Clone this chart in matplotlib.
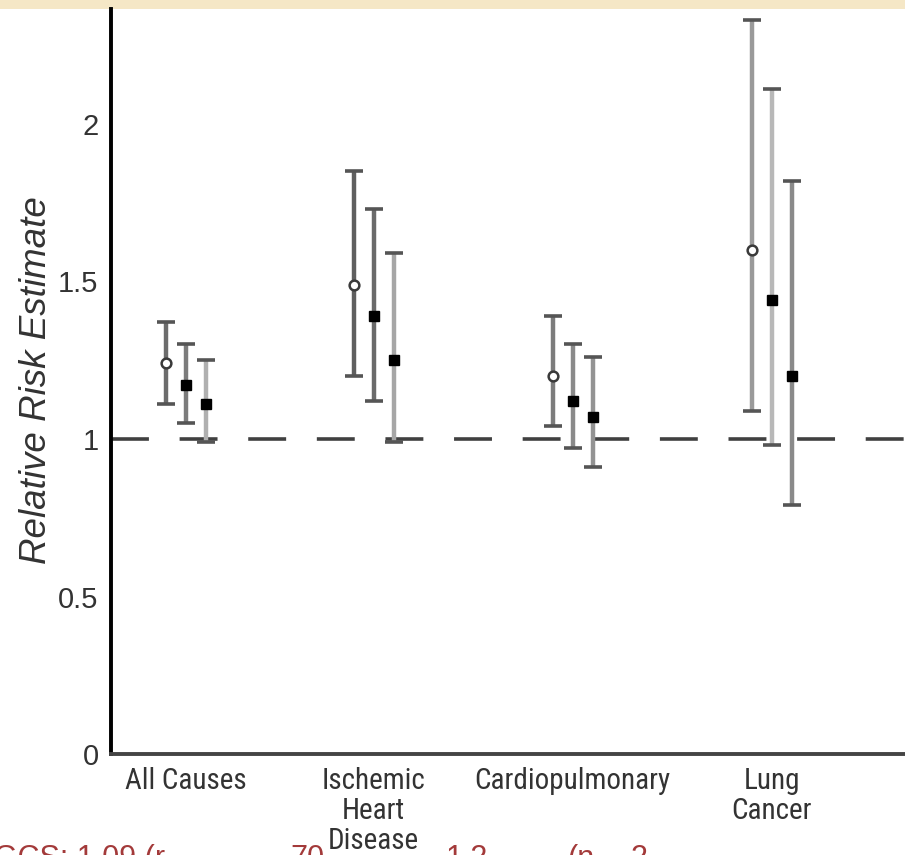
import matplotlib
matplotlib.use("Agg")
import matplotlib.pyplot as plt
from matplotlib import font_manager as fm
import numpy as np

# Causes of death and the three estimates drawn for each
categories = ["All Causes", "Ischemic\nHeart\nDisease", "Cardiopulmonary", "Lung\nCancer"]

est_open = [1.24, 1.49, 1.20, 1.60]
lo_open = [1.11, 1.20, 1.04, 1.09]
hi_open = [1.37, 1.85, 1.39, 2.33]

est_mid = [1.17, 1.39, 1.12, 1.44]
lo_mid = [1.05, 1.12, 0.97, 0.98]
hi_mid = [1.30, 1.73, 1.30, 2.11]

est_right = [1.11, 1.25, 1.07, 1.20]
lo_right = [0.99, 0.99, 0.91, 0.79]
hi_right = [1.25, 1.59, 1.26, 1.82]

yticks = [0, 0.5, 1, 1.5, 2]
ytick_labels = ["0", "0.5", "1", "1.5", "2"]


def pick_font(names):
    for n in names:
        try:
            fm.findfont(fm.FontProperties(family=n), fallback_to_default=False)
            return n
        except Exception:
            continue
    return "DejaVu Sans"


narrow = pick_font(["Liberation Sans Narrow", "Roboto Condensed", "Liberation Sans"])
sans = pick_font(["Liberation Sans", "Arial", "DejaVu Sans"])

W, H = 905, 855
fig = plt.figure(figsize=(W / 100, H / 100), dpi=100)
fig.patch.set_facecolor("white")

# beige strip along the top edge
fig.add_artist(plt.Rectangle((0, 1 - 9 / H), 1, 9 / H, transform=fig.transFigure,
                             facecolor="#f5e7c6", edgecolor="none", zorder=0))

ax_left = 111 / W
ax_bottom = (H - 754) / H
ax_top = (H - 9) / H
ax = fig.add_axes([ax_left, ax_bottom, 1 - ax_left, ax_top - ax_bottom])

ax.set_xlim(0, 3.99)
ax.set_ylim(0, (754 - 9) / 315)

centers = np.array([0.375, 1.32, 2.32, 3.32])
offset = 0.1

series = [
    (centers - offset, est_open, lo_open, hi_open),
    (centers, est_mid, lo_mid, hi_mid),
    (centers + offset, est_right, lo_right, hi_right),
]

bar_colors = [
    ["#6c6c6c", "#5f5f5f", "#7c7c7c", "#9a9a9a"],
    ["#7c7c7c", "#6a6a6a", "#8a8a8a", "#b8b8b8"],
    ["#b0b0b0", "#a6a6a6", "#939393", "#8a8a8a"],
]

# reference line at RR = 1
ax.axhline(1.0, color="#404040", lw=2.6, dashes=(10.5, 8.5), zorder=1)

for si, (xs, est, lo, hi) in enumerate(series):
    for gi in range(len(categories)):
        x = xs[gi]
        ax.plot([x, x], [lo[gi], hi[gi]], color=bar_colors[si][gi], lw=3.2,
                solid_capstyle="butt", zorder=2)
        ax.plot([x, x], [lo[gi], hi[gi]], linestyle="none", marker="_",
                markersize=13, mew=2.6, color="#555555", zorder=3)
    if si == 0:
        ax.plot(xs, est, linestyle="none", marker="o", markersize=7,
                markerfacecolor="white", markeredgecolor="#3a3a3a", mew=1.8, zorder=4)
    else:
        ax.plot(xs, est, linestyle="none", marker="s", markersize=6.8,
                color="black", zorder=4)

for side in ["top", "right"]:
    ax.spines[side].set_visible(False)
ax.spines["left"].set_color("black")
ax.spines["left"].set_linewidth(2.8)
ax.spines["bottom"].set_color("#444444")
ax.spines["bottom"].set_linewidth(2.8)

ax.set_yticks(yticks)
ax.set_yticklabels(ytick_labels, fontfamily=sans, fontsize=21, color="#333333")
ax.tick_params(axis="y", length=0, pad=9)

ax.set_xticks(centers)
ax.set_xticklabels(categories, fontfamily=narrow, fontsize=21, color="#333333",
                   linespacing=1.1)
ax.tick_params(axis="x", length=0, pad=9)
for lbl in ax.get_xticklabels():
    lbl.set_verticalalignment("top")

ax.set_ylabel("Relative Risk Estimate", fontfamily=sans, fontstyle="italic",
              fontsize=26.5, color="#333333")
ax.yaxis.set_label_coords(-(111 - 54) / (W - 111), (754 - 380) / 745)

# caption line running off the bottom edge
caption_parts = [(-6, "GCS: 1.09 (r"), (290, "70"), (446, "1.2"), (567, "(n"), (630, "2")]
for px, s in caption_parts:
    fig.text(px / W, (H - 867) / H, s, fontfamily=sans, fontsize=22,
             color="#a33a3a", va="baseline", ha="left", zorder=0)

fig.savefig("out.png", dpi=100)
